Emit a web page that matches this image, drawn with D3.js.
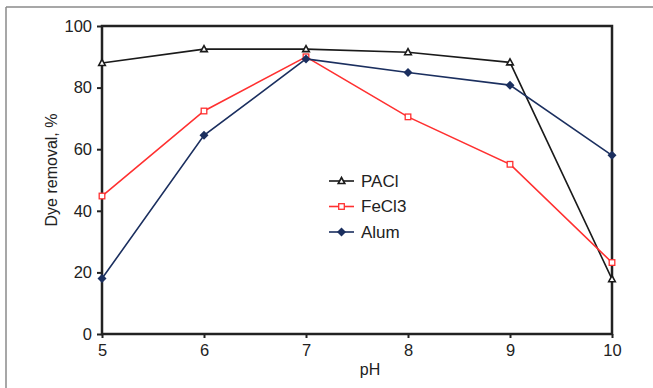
<!DOCTYPE html>
<html><head><meta charset="utf-8">
<script src="https://cdn.jsdelivr.net/npm/d3@7"></script>
<style>body{margin:0;background:#fff}svg{display:block}text{font-family:"Liberation Sans",Arial,sans-serif;fill:#222}</style>
</head><body>
<script>
const pH = [5, 6, 7, 8, 9, 10];
const paclValues = [88, 92.5, 92.5, 91.5, 88.2, 17.8];
const fecl3Values = [44.8, 72.4, 90, 70.5, 55.1, 23.2];
const alumValues = [18, 64.5, 89.3, 84.9, 80.8, 58];
const yTicks = [0, 20, 40, 60, 80, 100];
const seriesNames = ["PACl", "FeCl3", "Alum"];

const W = 653, H = 388;
const m = {l: 102, t: 26, r: 653 - 612, b: 388 - 334};
const svg = d3.select("body").append("svg").attr("width", W).attr("height", H);

// outer frame
svg.append("line").attr("x1", 6).attr("x2", W).attr("y1", 7).attr("y2", 7).attr("stroke", "#8a8a8a").attr("stroke-width", 1.5);
svg.append("line").attr("x1", 6).attr("x2", 6).attr("y1", 7).attr("y2", H).attr("stroke", "#8a8a8a").attr("stroke-width", 1.5);

const x = d3.scaleLinear().domain([5, 10]).range([m.l, W - m.r]);
const y = d3.scaleLinear().domain([0, 100]).range([H - m.b, m.t]);

const g = svg.append("g");
// y axis
const ya = g.append("g").attr("transform", `translate(${m.l},0)`)
  .call(d3.axisLeft(y).tickValues(yTicks).tickSize(5).tickPadding(5));
ya.select(".domain").remove();
ya.selectAll("line").attr("stroke", "#222").attr("stroke-width", 2);
ya.selectAll("text").attr("font-size", 16.5).style("fill", "#222").attr("font-family", "Liberation Sans, Arial, sans-serif");

const xa = g.append("g").attr("transform", `translate(0,${H - m.b})`)
  .call(d3.axisBottom(x).tickValues(pH).tickFormat(d3.format("d")).tickSize(4).tickPadding(6));
xa.select(".domain").remove();
xa.selectAll("line").attr("stroke", "#222").attr("stroke-width", 2);
xa.selectAll("text").attr("font-size", 16.5).style("fill", "#222").attr("font-family", "Liberation Sans, Arial, sans-serif");

// plot box
g.append("rect").attr("x", x(5)).attr("y", y(100)).attr("width", x(10) - x(5)).attr("height", y(0) - y(100))
  .attr("fill", "none").attr("stroke", "#222").attr("stroke-width", 2.5);

// axis titles
svg.append("text").attr("x", 370).attr("y", 375).attr("text-anchor", "middle").attr("font-size", 16).text("pH");
svg.append("text").attr("transform", `translate(57,170) rotate(-90)`).attr("text-anchor", "middle").attr("font-size", 16).text("Dye removal, %");

const series = [
  {name: seriesNames[0], vals: paclValues, color: "#1a1a1a", shape: "tri"},
  {name: seriesNames[1], vals: fecl3Values, color: "#ff3030", shape: "sq"},
  {name: seriesNames[2], vals: alumValues, color: "#1b2f5f", shape: "dia"}
];
const line = d3.line().x((d, i) => x(pH[i])).y(d => y(d));

function marker(sel, s, cx, cy) {
  if (s.shape === "tri") {
    sel.append("path").attr("d", `M${cx},${cy - 3.5}L${cx + 3.3},${cy + 2.5}L${cx - 3.3},${cy + 2.5}Z`)
      .attr("fill", "#fff").attr("stroke", s.color).attr("stroke-width", 1.6);
  } else if (s.shape === "sq") {
    sel.append("rect").attr("x", cx - 2.8).attr("y", cy - 2.8).attr("width", 5.6).attr("height", 5.6)
      .attr("fill", "#fff").attr("stroke", s.color).attr("stroke-width", 1.3);
  } else {
    sel.append("path").attr("d", `M${cx},${cy - 4.5}L${cx + 4.5},${cy}L${cx},${cy + 4.5}L${cx - 4.5},${cy}Z`)
      .attr("fill", s.color);
  }
}

series.forEach(s => {
  g.append("path").datum(s.vals).attr("d", line).attr("fill", "none").attr("stroke", s.color).attr("stroke-width", 1.6);
});
series.forEach(s => {
  s.vals.forEach((v, i) => marker(g, s, x(pH[i]), y(v)));
});

// legend
const lg = svg.append("g");
series.forEach((s, i) => {
  const ly = 181 + i * 25.5;
  lg.append("line").attr("x1", 329).attr("x2", 354).attr("y1", ly).attr("y2", ly).attr("stroke", s.color).attr("stroke-width", 1.6);
  marker(lg, s, 341.5, ly);
  lg.append("text").attr("x", 361).attr("y", ly + 5.5).attr("font-size", 17).text(s.name);
});
</script>
</body></html>
